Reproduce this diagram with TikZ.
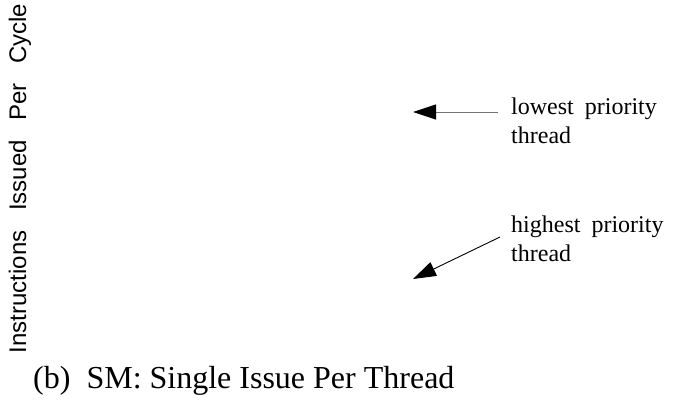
\documentclass[tikz,border=0pt]{standalone}
\usepackage{fontspec}
\setmainfont{Liberation Serif}
\newfontfamily\axisfont{Liberation Sans}
\usetikzlibrary{arrows.meta}
\begin{document}
\begin{tikzpicture}[x=1pt,y=-1pt,
  lbl/.style={inner sep=0pt,anchor=north west,align=left,font=\fontsize{24}{28.5}\selectfont},
  ptr/.style={line width=0.9pt,-{Triangle[length=23pt,width=15pt,color=black]}}]
\useasboundingbox (0,0) rectangle (681,405);
\node[inner sep=0pt,rotate=90,anchor=center,font=\axisfont\fontsize{24}{28}\selectfont] (ylab) at (20,178.5)
  {Instructions\hspace{19.5pt}Issued\hspace{19.5pt}Per\hspace{19.5pt}Cycle};
\node[lbl] (low) at (511,98) {lowest\hspace{11pt}priority\\thread};
\node[lbl] (high) at (511,216) {highest\hspace{11pt}priority\\thread};
\coordinate (lowtail) at (498,112);
\coordinate (lowtip) at (413,112);
\coordinate (hightail) at (500,237);
\coordinate (hightip) at (413,279);
\draw[ptr,draw=black!55] (lowtail) -- (lowtip);
\draw[ptr] (hightail) -- (hightip);
\node[inner sep=0pt,anchor=base west,font=\fontsize{32}{38}\selectfont] (cap) at (33,388)
  {(b)\hspace{16pt}SM: Single Issue Per Thread};
\end{tikzpicture}
\end{document}
